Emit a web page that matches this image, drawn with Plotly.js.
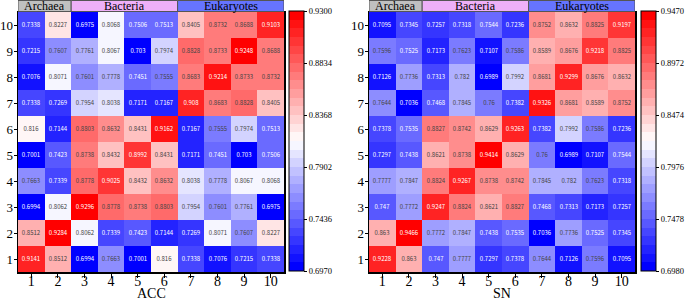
<!DOCTYPE html>
<html><head><meta charset="utf-8">
<script src="https://cdn.plot.ly/plotly-3.0.1.min.js"></script>
<style>html,body{margin:0;padding:0;background:#fff}#plot{width:685px;height:302px}</style>
</head><body><div id="plot"></div>
<script>
const categories = [1,2,3,4,5,6,7,8,9,10];
const groupNames = ["Archaea","Bacteria","Eukaryotes"];
const groupStart = [1,3,7];
const groupEnd = [2,6,10];
const groupColors = ["#c0c0c0","#eeb0f8","#6674ff"];
const axisTitles = ["ACC","SN"];

// rows y = 1..10
const accValues = [
 [0.9141,0.8512,0.6994,0.7663,0.7001,0.816,0.7338,0.7076,0.7215,0.7338],
 [0.8512,0.9284,0.8062,0.7339,0.7423,0.7144,0.7269,0.8071,0.7607,0.8227],
 [0.6994,0.8062,0.9296,0.8778,0.8738,0.8803,0.7954,0.7601,0.7761,0.6975],
 [0.7663,0.7339,0.8778,0.9025,0.8432,0.8632,0.8038,0.7778,0.8067,0.8068],
 [0.7001,0.7423,0.8738,0.8432,0.8992,0.8431,0.7171,0.7451,0.703,0.7506],
 [0.816,0.7144,0.8803,0.8632,0.8431,0.9162,0.7167,0.7555,0.7974,0.7513],
 [0.7338,0.7269,0.7954,0.8038,0.7171,0.7167,0.908,0.8683,0.8828,0.8405],
 [0.7076,0.8071,0.7601,0.7778,0.7451,0.7555,0.8683,0.9214,0.8733,0.8732],
 [0.7215,0.7607,0.7761,0.8067,0.703,0.7974,0.8828,0.8733,0.9248,0.8688],
 [0.7338,0.8227,0.6975,0.8068,0.7506,0.7513,0.8405,0.8732,0.8688,0.9103]
];
const snValues = [
 [0.9228,0.863,0.747,0.7777,0.7297,0.7378,0.7644,0.7126,0.7596,0.7095],
 [0.863,0.9466,0.7772,0.7847,0.7438,0.7535,0.7036,0.7736,0.7525,0.7345],
 [0.747,0.7772,0.9247,0.8824,0.8621,0.8827,0.7468,0.7313,0.7173,0.7257],
 [0.7777,0.7847,0.8824,0.9267,0.8738,0.8742,0.7845,0.782,0.7623,0.7318],
 [0.7297,0.7438,0.8621,0.8738,0.9414,0.8629,0.76,0.6989,0.7107,0.7544],
 [0.7378,0.7535,0.8827,0.8742,0.8629,0.9263,0.7382,0.7992,0.7586,0.7236],
 [0.7644,0.7036,0.7468,0.7845,0.76,0.7382,0.9326,0.8681,0.8589,0.8752],
 [0.7126,0.7736,0.7313,0.782,0.6989,0.7992,0.8681,0.9299,0.8676,0.8632],
 [0.7596,0.7525,0.7173,0.7623,0.7107,0.7586,0.8589,0.8676,0.9218,0.8825],
 [0.7095,0.7345,0.7257,0.7318,0.7544,0.7236,0.8752,0.8632,0.8825,0.9197]
];
const accTicks = [0.6970,0.7436,0.7902,0.8368,0.8834,0.9300];
const snTicks = [0.6980,0.7478,0.7976,0.8474,0.8972,0.9470];

// discrete bwr colorscale
function bwr(t){
  let r,g,b;
  if(t<0.5){ r=Math.round(255*t*2); g=r; b=255; }
  else { r=255; g=Math.round(255*(1-t)*2); b=g; }
  return `rgb(${r},${g},${b})`;
}
const N=30, cs=[];
for(let k=0;k<N;k++){ const c=bwr(k/(N-1)); cs.push([k/N,c]); cs.push([(k+1)/N,c]); }

const W=685,H=302;
const L=18,R=635,T=12,B=272;
const px=x=>(x-L)/(R-L), py=y=>(B-y)/(B-T);
const serif='"Liberation Serif", "DejaVu Serif", serif';
const cellFont='"Noto Sans CJK SC", "Liberation Mono", monospace';

function hm(z,ticks,xa,ya,cbx){
  return {type:'heatmap',x:categories,y:categories,z:z,xaxis:xa,yaxis:ya,
    zmin:ticks[0],zmax:ticks[ticks.length-1],colorscale:cs,
    texttemplate:'%{z}',textfont:{size:6,family:cellFont},hoverinfo:'skip',
    colorbar:{x:cbx,xanchor:'left',xpad:0,ypad:0,y:py(141),yanchor:'middle',len:260/(B-T),lenmode:'fraction',
      thickness:15,outlinewidth:1,outlinecolor:'#000',tickvals:ticks,ticktext:ticks.map(v=>v.toFixed(4)),
      ticks:'outside',ticklen:3,tickcolor:'#000',tickfont:{size:8.5,family:serif,color:'#000'}}};
}
const data=[hm(accValues,accTicks,'x','y',px(289)),hm(snValues,snTicks,'x2','y2',px(641))];

function xax(d0,d1,anchor){
  return {domain:[px(d0),px(d1)],anchor:anchor,range:[0.5,10.5],tickvals:categories,ticks:'outside',ticklen:4,
    tickcolor:'#000',showline:true,linecolor:'#000',linewidth:1.5,mirror:true,showgrid:false,zeroline:false,automargin:false,
    ticklabelstandoff:-8,tickfont:{family:serif,size:14,color:'#000'}};
}
function yax(anchor){
  return {domain:[0,1],anchor:anchor,range:[0.5,10.5],tickvals:categories,ticks:'outside',ticklen:3,
    tickcolor:'#000',showline:true,linecolor:'#000',linewidth:1.5,mirror:true,showgrid:false,zeroline:false,automargin:false,
    ticklabelstandoff:-2,tickfont:{family:serif,size:13,color:'#000'}};
}
const shapes=[],annotations=[];
['x','x2'].forEach((xr,j)=>{
  groupNames.forEach((g,i)=>{
    shapes.push({type:'rect',xref:xr,yref:'paper',x0:groupStart[i]-0.5,x1:groupEnd[i]+0.5,y0:py(11.5),y1:py(0.5),
      fillcolor:groupColors[i],line:{color:'#555',width:1}});
    annotations.push({xref:xr,yref:'paper',x:(groupStart[i]+groupEnd[i])/2,y:py(6),text:g,showarrow:false,
      font:{family:serif,size:12,color:'#000'},yanchor:'middle'});
  });
  annotations.push({xref:xr,yref:'paper',x:5.5,y:py(302),text:axisTitles[j],showarrow:false,yanchor:'bottom',
    font:{family:serif,size:14,color:'#000'},borderpad:0});
});
const layout={width:W,height:H,margin:{l:L,r:W-R,t:T,b:H-B,autoexpand:false},paper_bgcolor:'#fff',plot_bgcolor:'#fff',
  xaxis:xax(18,284,'y'),yaxis:yax('x'),xaxis2:xax(369,635,'y2'),yaxis2:yax('x2'),
  shapes:shapes,annotations:annotations,showlegend:false};
Plotly.newPlot('plot',data,layout,{staticPlot:true,displayModeBar:false});
</script></body></html>
